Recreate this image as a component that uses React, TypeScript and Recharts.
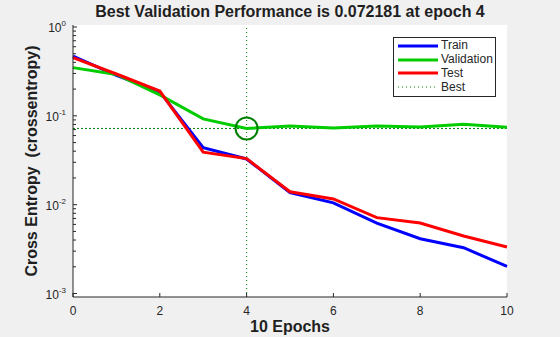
import React from "react"
import {
  ComposedChart, Line, XAxis, YAxis, CartesianGrid,
  ReferenceLine, ReferenceDot,
} from "recharts"

// ─── Data ─────────────────────────────────────────────────────────────────────
const EPOCHS = [0, 1, 2, 3, 4, 5, 6, 7, 8, 9, 10]
const TRAIN = [0.47, 0.286, 0.186, 0.0439, 0.0327, 0.0137, 0.0105, 0.0062, 0.00414, 0.00328, 0.00202]
const VALIDATION = [0.349, 0.292, 0.172, 0.0923, 0.072181, 0.0769, 0.0728, 0.077, 0.075, 0.0804, 0.0745]
const TEST = [0.452, 0.296, 0.19, 0.039, 0.033, 0.014, 0.0116, 0.00715, 0.00622, 0.00445, 0.00334]

const BEST_EPOCH = 4
const BEST_PERF = 0.072181

const X_TICKS = [0, 2, 4, 6, 8, 10]
const Y_MAJOR = [0.001, 0.01, 0.1, 1]
const MINOR_STEPS = [2, 3, 4, 5, 6, 7, 8, 9]

const TITLE = "Best Validation Performance is 0.072181 at epoch 4"
const X_LABEL = "10 Epochs"
const Y_LABEL = "Cross Entropy  (crossentropy)"

// ─── Colours ──────────────────────────────────────────────────────────────────
const C_TRAIN = "#0000ff"
const C_VAL = "#00cc00"
const C_TEST = "#ff0000"
const C_BEST = "#008000"
const C_AXIS = "#262626"
const FONT = "'Liberation Sans', Arial, sans-serif"

const rows = EPOCHS.map((e, i) => ({
  epoch: e,
  train: TRAIN[i],
  validation: VALIDATION[i],
  test: TEST[i],
}))

const yTicks = [
  ...Y_MAJOR,
  ...Y_MAJOR.slice(0, -1).flatMap((m) => MINOR_STEPS.map((s) => +(m * s).toPrecision(3))),
].sort((a, b) => a - b)

// ─── Ticks ────────────────────────────────────────────────────────────────────
const Y_MARGIN = 7
function YTick({ x, y, payload }: any) {
  const v = payload.value
  const lg = Math.log10(v)
  const exp = Math.round(lg)
  const major = Math.abs(lg - exp) < 1e-6
  const ax = x + Y_MARGIN
  return (
    <g>
      <line x1={ax} x2={ax + (major ? 4 : 3)} y1={y} y2={y} stroke={C_AXIS} />
      {major && (
        <text x={x} y={y + 5} textAnchor="end" fontSize={12} fill={C_AXIS} fontFamily={FONT}>
          <tspan>10</tspan>
          <tspan dy={-6} fontSize={8}>{exp}</tspan>
        </text>
      )}
    </g>
  )
}

const X_MARGIN = 4
function XTick({ x, y, payload }: any) {
  const ay = y - X_MARGIN
  return (
    <g>
      <line x1={x} x2={x} y1={ay} y2={ay - 4} stroke={C_AXIS} />
      <text x={x} y={y + 14} textAnchor="middle" fontSize={12} fill={C_AXIS} fontFamily={FONT}>
        {payload.value}
      </text>
    </g>
  )
}

// ─── Legend ───────────────────────────────────────────────────────────────────
const LEGEND = [
  { name: "Train", color: C_TRAIN, dotted: false },
  { name: "Validation", color: C_VAL, dotted: false },
  { name: "Test", color: C_TEST, dotted: false },
  { name: "Best", color: C_BEST, dotted: true },
]

function BoxLegend() {
  return (
    <div
      style={{
        position: "absolute", left: 393, top: 37, width: 101, height: 57,
        border: `1px solid ${C_AXIS}`, background: "#fff",
        fontFamily: FONT, fontSize: 12, color: C_AXIS,
        paddingTop: 1, boxSizing: "content-box",
      }}
    >
      {LEGEND.map((l) => (
        <div key={l.name} style={{ display: "flex", alignItems: "center", height: 13.8 }}>
          <svg width={44} height={6} style={{ marginLeft: 3 }}>
            <line
              x1={1} x2={41} y1={3} y2={3}
              stroke={l.color}
              strokeWidth={l.dotted ? 1 : 3}
              strokeDasharray={l.dotted ? "1 3" : undefined}
            />
          </svg>
          <span style={{ lineHeight: "13px" }}>{l.name}</span>
        </div>
      ))}
    </div>
  )
}

// ─── Chart ────────────────────────────────────────────────────────────────────
export default function App() {
  return (
    <div style={{ position: "relative", width: 560, height: 337, background: "#f0f0f0", fontFamily: FONT }}>
      <style>{"body{margin:0}"}</style>
      <div
        style={{
          position: "absolute", left: 73, width: 434, top: 4, textAlign: "center",
          fontSize: 16, fontWeight: "bold", lineHeight: "16px", color: "#1f1f1f",
        }}
      >
        {TITLE}
      </div>
      <ComposedChart width={560} height={337} data={rows} margin={{ top: 25, right: 53, bottom: 0, left: 0 }}>
        <CartesianGrid horizontal={false} vertical={false} fill="#ffffff" />
        <XAxis
          dataKey="epoch"
          type="number"
          domain={[0, 10]}
          ticks={X_TICKS}
          interval={0}
          height={40}
          tickSize={0}
          tickMargin={X_MARGIN}
          tickLine={false}
          tick={<XTick />}
          axisLine={{ stroke: C_AXIS }}
          label={{
            content: ({ viewBox }: any) => (
              <text
                x={viewBox.x + viewBox.width / 2}
                y={viewBox.y + 35}
                textAnchor="middle"
                fontSize={16}
                fontWeight="bold"
                fill="#1f1f1f"
                fontFamily={FONT}
              >
                {X_LABEL}
              </text>
            ),
          }}
        />
        <YAxis
          scale="log"
          type="number"
          domain={[Math.pow(10, -3.039), Math.pow(10, 0.0225)]}
          allowDataOverflow
          ticks={yTicks}
          interval={0}
          width={73}
          tickSize={0}
          tickMargin={Y_MARGIN}
          tickLine={false}
          tick={<YTick />}
          axisLine={{ stroke: C_AXIS }}
          label={{
            content: ({ viewBox }: any) => {
              const cx = 36.5
              const cy = viewBox.y + viewBox.height / 2
              return (
                <text
                  x={cx}
                  y={cy}
                  transform={`rotate(-90, ${cx}, ${cy})`}
                  textAnchor="middle"
                  fontSize={16}
                  fontWeight="bold"
                  fill="#1f1f1f"
                  fontFamily={FONT}
                  style={{ whiteSpace: "pre" }}
                >
                  {Y_LABEL}
                </text>
              )
            },
          }}
        />

        <ReferenceLine x={BEST_EPOCH} stroke={C_BEST} strokeDasharray="1 3" strokeWidth={1} />
        <ReferenceLine y={BEST_PERF} stroke={C_BEST} strokeDasharray="2 2" strokeWidth={1} />

        <Line dataKey="train" stroke={C_TRAIN} strokeWidth={3} dot={false} isAnimationActive={false} />
        <Line dataKey="validation" stroke={C_VAL} strokeWidth={3} dot={false} isAnimationActive={false} />
        <Line dataKey="test" stroke={C_TEST} strokeWidth={3} dot={false} isAnimationActive={false} />

        <ReferenceDot x={BEST_EPOCH} y={BEST_PERF} r={11} fill="none" stroke={C_BEST} strokeWidth={2} />
      </ComposedChart>
      <BoxLegend />
    </div>
  )
}
